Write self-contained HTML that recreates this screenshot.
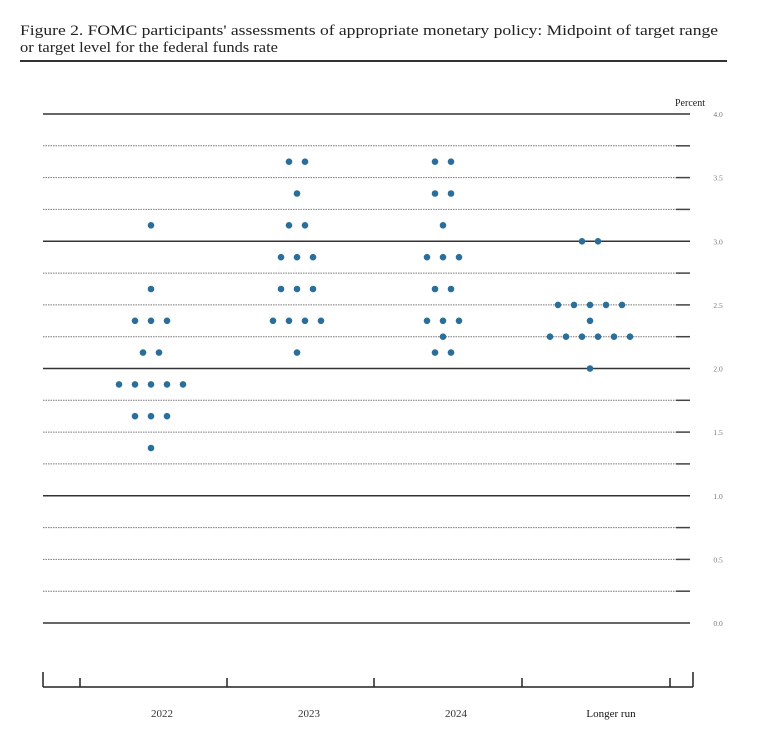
<!DOCTYPE html><html><head><style>body{margin:0;background:#fff;width:775px;height:731px;overflow:hidden}</style></head><body>
<svg width="775" height="731" xmlns="http://www.w3.org/2000/svg" font-family="Liberation Serif, serif">
<text x="20" y="35" font-size="15" fill="#222" textLength="698" lengthAdjust="spacingAndGlyphs">Figure 2.  FOMC participants' assessments of appropriate monetary policy:  Midpoint of target range</text>
<text x="20" y="52" font-size="15" fill="#222" textLength="258" lengthAdjust="spacingAndGlyphs">or target level for the federal funds rate</text>
<rect x="20" y="60" width="707" height="2" fill="#333"/>
<text x="705" y="106" font-size="10" text-anchor="end" fill="#222">Percent</text>
<g stroke="#333" stroke-width="1.5">
<line x1="43" y1="114" x2="690" y2="114"/><line x1="43" y1="241.3" x2="690" y2="241.3"/><line x1="43" y1="368.5" x2="690" y2="368.5"/><line x1="43" y1="495.8" x2="690" y2="495.8"/><line x1="43" y1="623" x2="690" y2="623"/>
</g>
<g stroke="#777" stroke-width="1" stroke-dasharray="1.5,1">
<line x1="43" y1="145.8" x2="676" y2="145.8"/><line x1="43" y1="177.6" x2="676" y2="177.6"/><line x1="43" y1="209.4" x2="676" y2="209.4"/>
<line x1="43" y1="273.1" x2="676" y2="273.1"/><line x1="43" y1="304.9" x2="676" y2="304.9"/><line x1="43" y1="336.7" x2="676" y2="336.7"/>
<line x1="43" y1="400.3" x2="676" y2="400.3"/><line x1="43" y1="432.1" x2="676" y2="432.1"/><line x1="43" y1="463.9" x2="676" y2="463.9"/>
<line x1="43" y1="527.6" x2="676" y2="527.6"/><line x1="43" y1="559.4" x2="676" y2="559.4"/><line x1="43" y1="591.2" x2="676" y2="591.2"/>
</g>
<g stroke="#444" stroke-width="1.5">
<line x1="676" y1="145.8" x2="690" y2="145.8"/><line x1="676" y1="177.6" x2="690" y2="177.6"/><line x1="676" y1="209.4" x2="690" y2="209.4"/>
<line x1="676" y1="273.1" x2="690" y2="273.1"/><line x1="676" y1="304.9" x2="690" y2="304.9"/><line x1="676" y1="336.7" x2="690" y2="336.7"/>
<line x1="676" y1="400.3" x2="690" y2="400.3"/><line x1="676" y1="432.1" x2="690" y2="432.1"/><line x1="676" y1="463.9" x2="690" y2="463.9"/>
<line x1="676" y1="527.6" x2="690" y2="527.6"/><line x1="676" y1="559.4" x2="690" y2="559.4"/><line x1="676" y1="591.2" x2="690" y2="591.2"/>
</g>
<g font-size="7.5" fill="#777" text-anchor="middle">
<text x="718" y="117">4.0</text><text x="718" y="180.6">3.5</text><text x="718" y="244.3">3.0</text><text x="718" y="307.9">2.5</text><text x="718" y="371.5">2.0</text><text x="718" y="435.1">1.5</text><text x="718" y="498.8">1.0</text><text x="718" y="562.4">0.5</text><text x="718" y="626">0.0</text>
</g>
<g stroke="#222" stroke-width="1.5">
<line x1="43" y1="687" x2="693" y2="687"/>
<line x1="43" y1="672" x2="43" y2="687"/><line x1="693" y1="672" x2="693" y2="687"/>
<line x1="80" y1="678" x2="80" y2="687"/><line x1="227" y1="678" x2="227" y2="687"/><line x1="374" y1="678" x2="374" y2="687"/><line x1="522" y1="678" x2="522" y2="687"/><line x1="670" y1="678" x2="670" y2="687"/>
</g>
<g font-size="11" fill="#333" text-anchor="middle">
<text x="162" y="717">2022</text><text x="309" y="717">2023</text><text x="456" y="717">2024</text><text x="611" y="717" fill="#111">Longer run</text>
</g>
<g fill="#2a6f9b">
<circle cx="151" cy="225.3" r="3.3"/><circle cx="151" cy="289" r="3.3"/>
<circle cx="135" cy="320.8" r="3.3"/><circle cx="151" cy="320.8" r="3.3"/><circle cx="167" cy="320.8" r="3.3"/>
<circle cx="143" cy="352.6" r="3.3"/><circle cx="159" cy="352.6" r="3.3"/>
<circle cx="119" cy="384.4" r="3.3"/><circle cx="135" cy="384.4" r="3.3"/><circle cx="151" cy="384.4" r="3.3"/><circle cx="167" cy="384.4" r="3.3"/><circle cx="183" cy="384.4" r="3.3"/>
<circle cx="135" cy="416.2" r="3.3"/><circle cx="151" cy="416.2" r="3.3"/><circle cx="167" cy="416.2" r="3.3"/>
<circle cx="151" cy="448" r="3.3"/>

<circle cx="289" cy="161.7" r="3.3"/><circle cx="305" cy="161.7" r="3.3"/>
<circle cx="297" cy="193.5" r="3.3"/>
<circle cx="289" cy="225.3" r="3.3"/><circle cx="305" cy="225.3" r="3.3"/>
<circle cx="281" cy="257.2" r="3.3"/><circle cx="297" cy="257.2" r="3.3"/><circle cx="313" cy="257.2" r="3.3"/>
<circle cx="281" cy="289" r="3.3"/><circle cx="297" cy="289" r="3.3"/><circle cx="313" cy="289" r="3.3"/>
<circle cx="273" cy="320.8" r="3.3"/><circle cx="289" cy="320.8" r="3.3"/><circle cx="305" cy="320.8" r="3.3"/><circle cx="321" cy="320.8" r="3.3"/>
<circle cx="297" cy="352.6" r="3.3"/>

<circle cx="435" cy="161.7" r="3.3"/><circle cx="451" cy="161.7" r="3.3"/>
<circle cx="435" cy="193.5" r="3.3"/><circle cx="451" cy="193.5" r="3.3"/>
<circle cx="443" cy="225.3" r="3.3"/>
<circle cx="427" cy="257.2" r="3.3"/><circle cx="443" cy="257.2" r="3.3"/><circle cx="459" cy="257.2" r="3.3"/>
<circle cx="435" cy="289" r="3.3"/><circle cx="451" cy="289" r="3.3"/>
<circle cx="427" cy="320.8" r="3.3"/><circle cx="443" cy="320.8" r="3.3"/><circle cx="459" cy="320.8" r="3.3"/>
<circle cx="443" cy="336.7" r="3.3"/>
<circle cx="435" cy="352.6" r="3.3"/><circle cx="451" cy="352.6" r="3.3"/>

<circle cx="582" cy="241.3" r="3.3"/><circle cx="598" cy="241.3" r="3.3"/>
<circle cx="558" cy="304.9" r="3.3"/><circle cx="574" cy="304.9" r="3.3"/><circle cx="590" cy="304.9" r="3.3"/><circle cx="606" cy="304.9" r="3.3"/><circle cx="622" cy="304.9" r="3.3"/>
<circle cx="590" cy="320.8" r="3.3"/>
<circle cx="550" cy="336.7" r="3.3"/><circle cx="566" cy="336.7" r="3.3"/><circle cx="582" cy="336.7" r="3.3"/><circle cx="598" cy="336.7" r="3.3"/><circle cx="614" cy="336.7" r="3.3"/><circle cx="630" cy="336.7" r="3.3"/>
<circle cx="590" cy="368.5" r="3.3"/>
</g>
</svg></body></html>
